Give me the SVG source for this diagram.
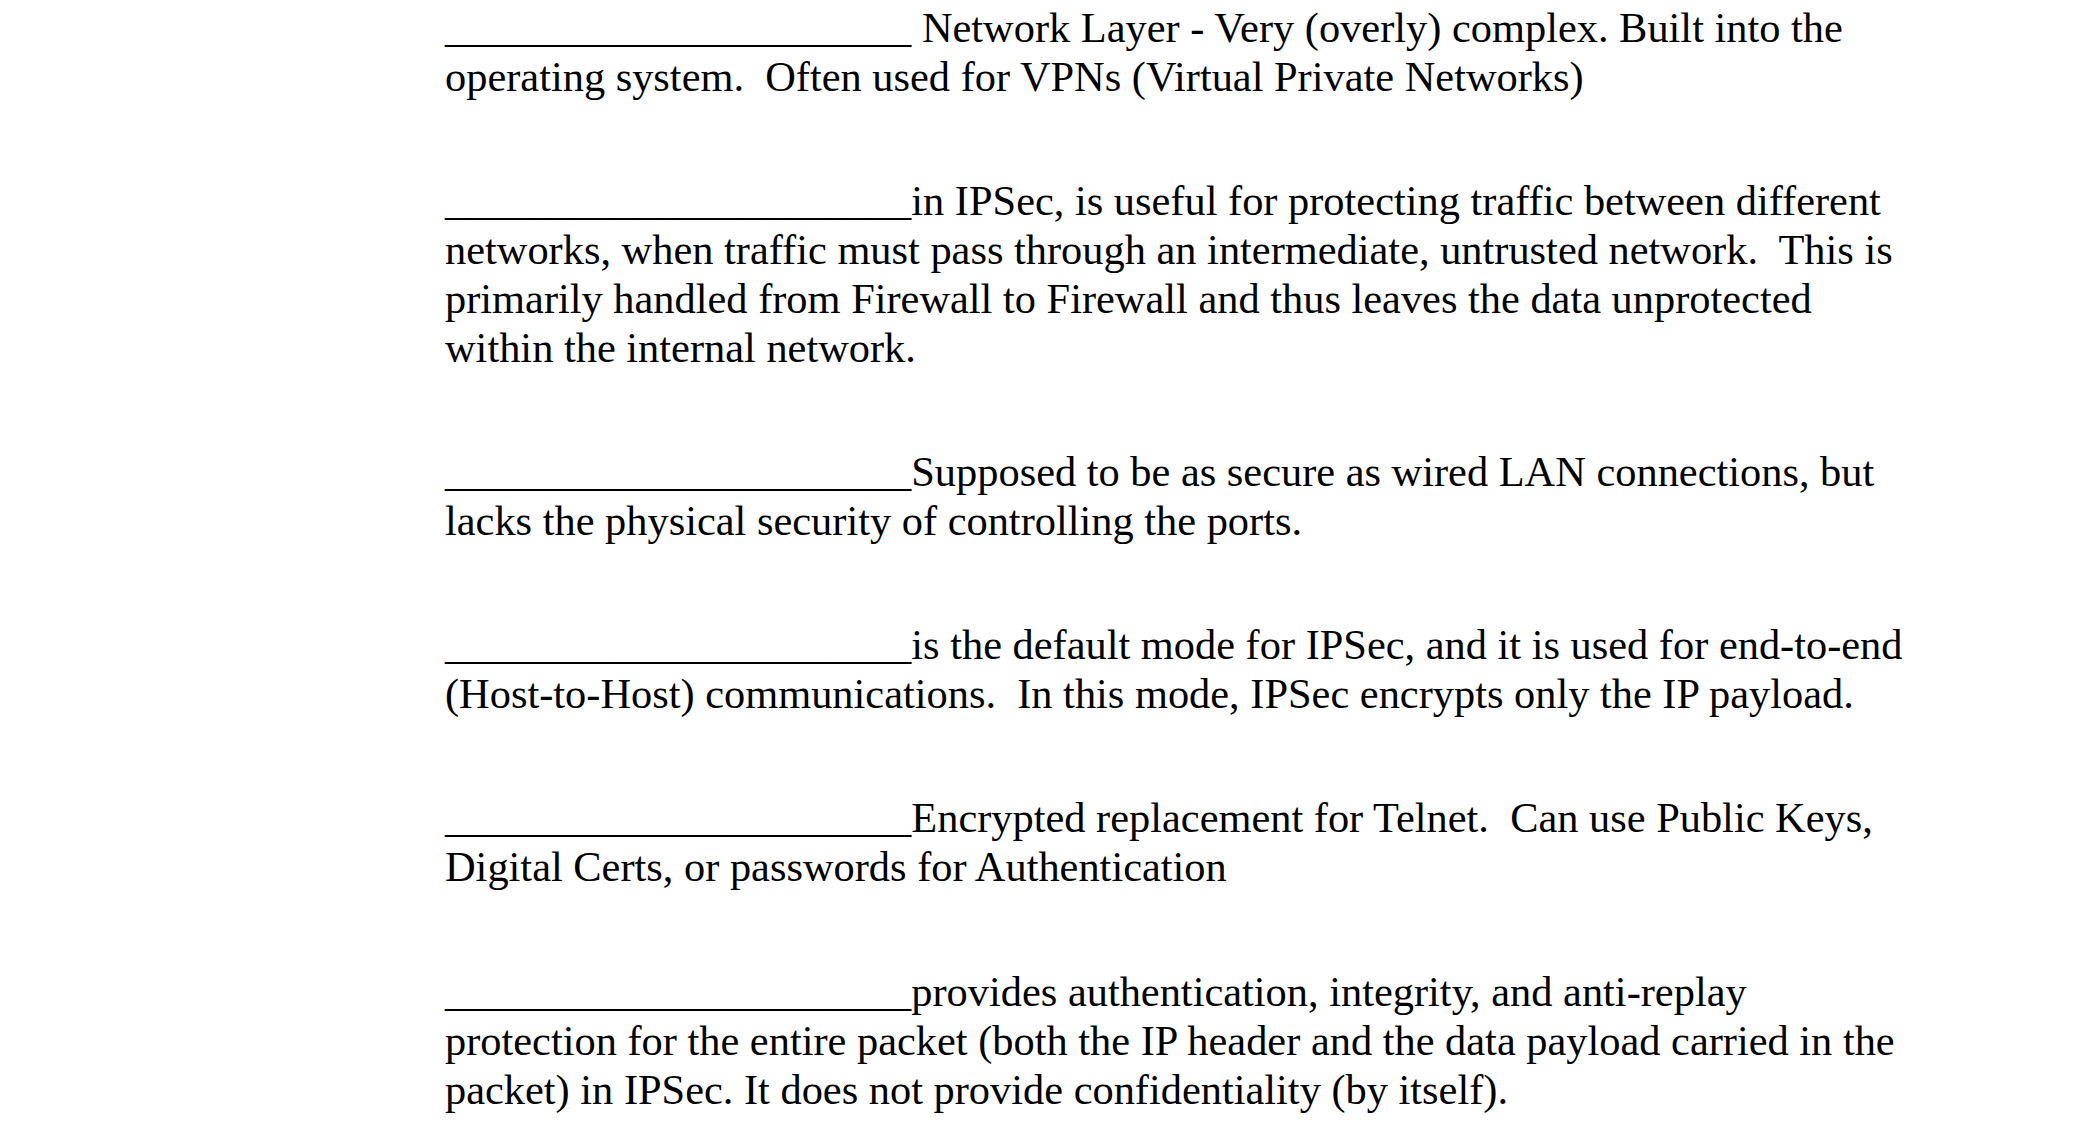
<svg xmlns="http://www.w3.org/2000/svg" width="2084" height="1148" viewBox="0 0 2084 1148">
<style>text{font-family:"Liberation Serif","Times New Roman",serif;font-size:42.4px;fill:#000;white-space:pre}</style>
<rect width="2084" height="1148" fill="#fff"/>
<g id="q1"><text x="445" y="42">______________________ Network Layer - Very (overly) complex. Built into the</text><text x="445" y="91">operating system.  Often used for VPNs (Virtual Private Networks)</text></g>
<g id="q2"><text x="445" y="215">______________________in IPSec, is useful for protecting traffic between different</text><text x="445" y="264">networks, when traffic must pass through an intermediate, untrusted network.  This is</text><text x="445" y="313">primarily handled from Firewall to Firewall and thus leaves the data unprotected</text><text x="445" y="362">within the internal network.</text></g>
<g id="q3"><text x="445" y="486">______________________Supposed to be as secure as wired LAN connections, but</text><text x="445" y="535">lacks the physical security of controlling the ports.</text></g>
<g id="q4"><text x="445" y="659">______________________is the default mode for IPSec, and it is used for end-to-end</text><text x="445" y="708">(Host-to-Host) communications.  In this mode, IPSec encrypts only the IP payload.</text></g>
<g id="q5"><text x="445" y="832">______________________Encrypted replacement for Telnet.  Can use Public Keys,</text><text x="445" y="881">Digital Certs, or passwords for Authentication</text></g>
<g id="q6"><text x="445" y="1006">______________________provides authentication, integrity, and anti-replay</text><text x="445" y="1055">protection for the entire packet (both the IP header and the data payload carried in the</text><text x="445" y="1104">packet) in IPSec. It does not provide confidentiality (by itself).</text></g>
</svg>
